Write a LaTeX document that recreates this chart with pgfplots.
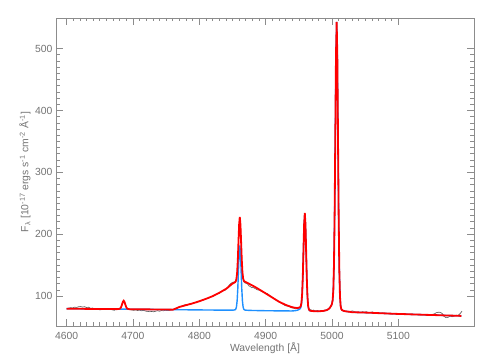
\documentclass[border=0pt]{standalone}
\usepackage{fontspec}
\setmainfont{Liberation Sans}
\usepackage{pgfplots}
\pgfplotsset{compat=1.18}
\definecolor{axiscol}{RGB}{140,140,140}
\definecolor{textcol}{RGB}{115,115,115}
\definecolor{datacol}{RGB}{85,85,85}
\definecolor{bluecol}{RGB}{30,144,255}
\definecolor{redcol}{RGB}{255,0,0}
\begin{document}
\begin{tikzpicture}
\useasboundingbox (-56bp,-36bp) rectangle (435bp,326bp);
\begin{axis}[
  scale only axis, width=418bp, height=308bp,
  xmin=4584, xmax=5214, ymin=51.5, ymax=549.5,
  xtick={4600,4700,4800,4900,5000,5100},
  ytick={100,200,300,400,500},
  minor x tick num=9, minor y tick num=9,
  tick align=inside, tick pos=both,
  major tick length=7bp, minor tick length=3.5bp,
  axis line style={axiscol, line width=0.6bp},
  every tick/.style={axiscol, line width=0.6bp},
  /pgf/number format/assume math mode=true,
  /pgf/number format/set thousands separator={},
  tick label style={font=\fontsize{10.4}{12}\selectfont, text=textcol},
  xticklabel shift=3bp,
  label style={font=\fontsize{10.4}{12}\selectfont, text=textcol},
  xlabel={Wavelength  [Å]},
  ylabel={F\textsubscript{λ}  [10\textsuperscript{-17} ergs s\textsuperscript{-1} cm\textsuperscript{-2} Å\textsuperscript{-1}]},
  xlabel style={at={(axis description cs:0.5,0)}, anchor=center, yshift=-22bp},
  ylabel style={at={(axis description cs:0,0.5)}, anchor=center, yshift=31bp},
]
% observed spectrum
\addplot[datacol, line width=0.6bp] coordinates {
(4600,79.0)(4603,80.5)(4606,81.2)(4609,80.6)(4612,82.0)(4615,81.5)(4618,82.6)(4621,83.0)(4624,82.1)(4627,82.8)(4630,81.4)(4633,81.9)(4636,80.2)(4639,80.6)(4642,79.3)(4645,78.8)(4648,78.0)(4651,77.6)(4654,78.4)(4657,79.6)(4660,80.1)(4663,79.4)(4666,78.6)(4669,77.5)(4672,76.9)(4675,78.5)(4678,79.0)(4680,79.6)(4681,80.5)(4682,82.0)(4683,85.0)(4684,88.3)(4685,91.2)(4686,92.0)(4687,90.4)(4688,87.4)(4689,84.0)(4690,81.5)(4692,79.2)(4695,78.0)(4698,77.4)(4701,76.8)(4704,77.5)(4707,76.6)(4710,77.2)(4713,76.1)(4716,76.8)(4719,75.6)(4722,75.1)(4725,74.6)(4728,75.0)(4731,74.5)(4734,75.3)(4737,76.2)(4740,75.4)(4743,76.5)(4746,76.0)(4749,77.1)(4752,76.3)(4755,77.0)(4758,77.8)(4761,78.3)(4764,80.0)(4767,81.0)(4770,82.6)(4773,83.5)(4776,84.9)(4779,86.0)(4782,85.4)(4785,87.2)(4788,86.8)(4791,88.9)(4794,89.3)(4797,90.6)(4800,91.0)(4803,93.1)(4806,93.4)(4809,95.3)(4812,95.9)(4815,97.0)(4818,98.8)(4821,99.4)(4824,101.8)(4827,103.4)(4830,104.2)(4833,107.0)(4836,108.4)(4839,109.4)(4842,113.0)(4845,117.5)(4847,119.8)(4849,121.4)(4851,122.6)(4853,122.0)(4855,124.4)(4856,128.5)(4857,137.0)(4858,156.0)(4859,185.0)(4860,213.5)(4861,226.0)(4862,216.0)(4863,189.0)(4864,159.5)(4865,138.0)(4866,127.5)(4867,123.0)(4869,121.0)(4871,120.3)(4873,119.0)(4875,116.2)(4877,115.2)(4879,113.4)(4881,113.8)(4883,112.6)(4885,111.6)(4887,110.2)(4889,109.6)(4891,109.8)(4893,107.6)(4895,107.0)(4897,106.3)(4900,104.8)(4903,103.6)(4906,100.9)(4909,99.0)(4912,96.2)(4915,93.9)(4918,92.8)(4921,89.3)(4924,88.8)(4927,86.0)(4930,84.2)(4933,83.7)(4936,82.6)(4939,80.9)(4942,80.4)(4945,79.2)(4947,79.8)(4949,80.3)(4951,81.0)(4952,82.0)(4953,84.5)(4954,90.0)(4955,104.0)(4956,133.0)(4957,175.5)(4958,216.0)(4959,233.0)(4960,216.5)(4961,173.5)(4962,129.5)(4963,99.8)(4964,85.0)(4965,79.6)(4966,77.8)(4968,77.9)(4970,76.6)(4972,77.3)(4974,76.2)(4976,75.8)(4978,76.6)(4980,75.4)(4983,75.0)(4986,75.8)(4989,77.2)(4991,76.6)(4993,77.8)(4995,79.0)(4997,81.0)(4999,85.0)(5000,87.5)(5001,93.0)(5002,110.0)(5003,152.0)(5004,237.0)(5005,364.0)(5006,489.0)(5007,541.0)(5008,489.0)(5009,362.0)(5010,232.0)(5011,143.5)(5012,100.5)(5013,84.5)(5014,79.5)(5015,77.6)(5017,75.8)(5019,74.9)(5022,75.4)(5025,74.4)(5028,75.2)(5031,76.0)(5034,74.5)(5037,73.2)(5040,74.0)(5043,73.4)(5046,74.6)(5049,73.9)(5052,74.5)(5055,72.9)(5058,73.6)(5061,74.2)(5064,72.8)(5067,72.2)(5070,73.0)(5073,71.8)(5076,72.6)(5079,71.4)(5082,72.3)(5085,71.1)(5088,71.9)(5091,70.7)(5094,71.8)(5097,70.9)(5100,71.6)(5103,70.6)(5106,71.3)(5109,69.9)(5112,70.8)(5115,70.4)(5118,69.6)(5121,70.6)(5124,69.8)(5127,70.4)(5130,69.1)(5133,70.3)(5136,69.4)(5139,70.0)(5142,68.8)(5145,69.6)(5148,69.9)(5151,70.2)(5154,71.0)(5157,72.9)(5160,73.8)(5163,73.6)(5166,71.8)(5169,66.8)(5172,64.9)(5175,65.6)(5178,67.5)(5181,66.4)(5184,67.6)(5187,69.0)(5190,68.5)(5193,71.5)(5196,75.5)
};
% continuum + narrow lines
\addplot[bluecol, line width=1.4bp] coordinates {
(4600,79.5)(4650,79.05)(4700,78.6)(4750,78.05)(4800,77.5)(4841,77.1)(4846,77.1)(4849,77.2)(4851,77.2)(4853,77.5)(4854,77.8)(4855,78.9)(4856,82.5)(4857,92.1)(4858,111.9)(4859,141.0)(4860,169.5)(4861,181.7)(4862,169.5)(4863,141.0)(4864,111.8)(4865,92.0)(4866,82.3)(4867,78.7)(4868,77.6)(4869,77.3)(4871,77.0)(4873,76.9)(4876,76.7)(4881,76.6)(4900,76.2)(4939,75.8)(4944,76.2)(4947,76.8)(4949,77.5)(4951,78.7)(4952,79.6)(4953,81.6)(4954,87.2)(4955,101.5)(4956,130.3)(4957,173.2)(4958,215.3)(4959,233.2)(4960,214.9)(4961,171.9)(4962,128.0)(4963,98.3)(4964,83.7)(4965,78.4)(4966,76.6)(4967,76.1)(4969,75.7)(4971,75.6)(4974,75.4)(4979,75.2)(4987,75.9)(4992,77.2)(4995,79.0)(4997,81.4)(4999,84.8)(5000,87.7)(5001,93.5)(5002,109.8)(5003,152.5)(5004,238.2)(5005,365.1)(5006,490.2)(5007,543.2)(5008,488.7)(5009,361.3)(5010,231.0)(5011,142.9)(5012,99.7)(5013,83.8)(5014,78.9)(5015,77.3)(5017,76.2)(5019,75.6)(5022,75.0)(5027,74.4)(5030,73.8)(5040,73.5)(5050,73.2)(5060,72.8)(5070,72.3)(5080,71.9)(5090,71.4)(5100,71.0)(5110,70.7)(5120,70.3)(5130,70.0)(5140,69.6)(5150,69.3)(5160,69.0)(5170,68.6)(5180,68.3)(5190,68.0)(5195,67.8)
};
% total fit
\addplot[redcol, line width=1.8bp] coordinates {
(4600,79.5)(4610,79.4)(4620,79.3)(4630,79.2)(4640,79.1)(4650,79.0)(4660,79.0)(4670,78.9)(4676,78.8)(4678,78.9)(4680,79.4)(4681,80.2)(4682,81.8)(4683,84.6)(4684,87.9)(4685,91.0)(4686,92.4)(4687,91.0)(4688,87.9)(4689,84.6)(4690,81.7)(4691,80.1)(4692,79.3)(4694,78.8)(4696,78.6)(4700,78.6)(4710,78.5)(4720,78.4)(4730,78.3)(4740,78.2)(4750,78.1)(4760,77.9)(4765,79.9)(4770,82.3)(4780,85.2)(4790,88.1)(4800,91.5)(4810,95.4)(4820,99.7)(4830,105.1)(4841,112.0)(4846,116.5)(4849,119.3)(4851,120.6)(4853,121.7)(4854,122.4)(4855,123.9)(4856,127.7)(4857,137.5)(4858,157.5)(4859,186.8)(4860,215.5)(4861,227.8)(4862,215.7)(4863,187.3)(4864,158.2)(4865,138.5)(4866,128.6)(4867,124.8)(4868,123.5)(4869,123.0)(4871,122.0)(4873,120.9)(4876,119.2)(4881,116.5)(4890,110.8)(4900,104.2)(4910,97.5)(4920,90.8)(4930,85.7)(4939,82.2)(4944,81.0)(4947,80.7)(4949,80.8)(4951,81.5)(4952,82.2)(4953,84.0)(4954,89.4)(4955,103.5)(4956,132.1)(4957,174.8)(4958,216.7)(4959,234.4)(4960,215.9)(4961,172.8)(4962,128.8)(4963,99.0)(4964,84.3)(4965,78.9)(4966,77.0)(4967,76.4)(4969,75.8)(4971,75.6)(4974,75.4)(4979,75.2)(4987,75.9)(4992,77.2)(4995,79.0)(4997,81.4)(4999,84.8)(5000,87.7)(5001,93.5)(5002,109.8)(5003,152.5)(5004,238.2)(5005,365.1)(5006,490.2)(5007,543.2)(5008,488.7)(5009,361.3)(5010,231.0)(5011,142.9)(5012,99.7)(5013,83.8)(5014,78.9)(5015,77.3)(5017,76.2)(5019,75.6)(5022,75.0)(5027,74.4)(5030,73.8)(5040,73.5)(5050,73.2)(5060,72.8)(5070,72.3)(5080,71.9)(5090,71.4)(5100,71.0)(5110,70.7)(5120,70.3)(5130,70.0)(5140,69.6)(5150,69.3)(5160,69.0)(5170,68.6)(5180,68.3)(5190,68.0)(5195,67.8)
};
\end{axis}
\end{tikzpicture}
\end{document}
